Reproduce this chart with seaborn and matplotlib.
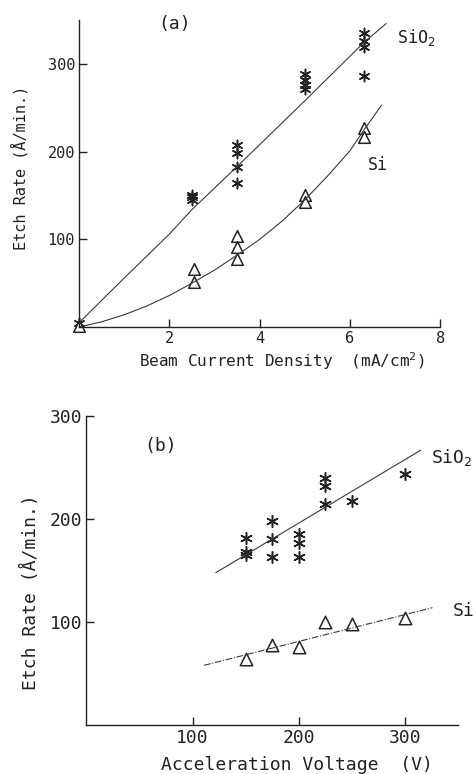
import numpy as np
import pandas as pd
import matplotlib
matplotlib.use("Agg")
import matplotlib.pyplot as plt
import seaborn as sns

sns.set_style("ticks")
plt.rcParams["font.family"] = ["DejaVu Sans Mono"]

# ---- panel (a): etch rate vs beam current density ----
a_sio2_x = [0, 2.5, 2.5, 2.5, 3.5, 3.5, 3.5, 3.5, 5.0, 5.0, 5.0, 5.0, 6.3, 6.3, 6.3, 6.3]
a_sio2_y = [5, 145, 148, 150, 208, 198, 183, 164, 289, 282, 276, 271, 335, 326, 319, 286]
a_si_x = [0, 2.55, 2.55, 3.5, 3.5, 3.5, 5.0, 5.0, 6.3, 6.3]
a_si_y = [1, 66, 51, 104, 91, 77, 150, 143, 227, 217]

# fitted curves
a_sio2_fit_x = [0, 1.0, 2.0, 2.5, 3.5, 5.0, 6.3, 6.8]
a_sio2_fit_y = [5, 56, 106, 134, 183, 258, 324, 346]
a_si_fit_x = [0, 0.5, 1.0, 1.5, 2.0, 2.5, 3.0, 3.5, 4.0, 4.5, 5.0, 5.5, 6.0, 6.3, 6.7]
a_si_fit_y = [0, 6, 14, 24, 36, 50, 65, 82, 100, 121, 145, 172, 201, 224, 253]

# ---- panel (b): etch rate vs acceleration voltage ----
b_sio2_x = [150, 150, 150, 175, 175, 175, 200, 200, 200, 225, 225, 225, 250, 300]
b_sio2_y = [182, 168, 165, 198, 181, 163, 186, 177, 163, 240, 232, 215, 218, 244]
b_si_x = [150, 175, 200, 225, 250, 300]
b_si_y = [64, 78, 76, 100, 98, 104]

b_sio2_fit_x = [122, 315]
b_sio2_fit_y = [148, 267]
b_si_fit_x = [111, 326]
b_si_fit_y = [58, 114]

ink = "#222222"
line_ink = "#3a3a3a"
asterisk = (6, 2, 0)

fig = plt.figure(figsize=(4.77, 7.74), dpi=100)
ax1 = fig.add_axes([0.166, 0.5775, 0.757, 0.3966])
ax2 = fig.add_axes([0.181, 0.0633, 0.779, 0.399])


def style_axes(ax, fs):
    sns.despine(ax=ax)
    ax.spines["left"].set_color(ink)
    ax.spines["bottom"].set_color(ink)
    ax.spines["left"].set_linewidth(1.0)
    ax.spines["bottom"].set_linewidth(1.0)
    ax.tick_params(direction="in", length=6, width=1.0, colors=ink,
                   labelsize=fs, pad=3)


# panel (a)
sns.lineplot(x=a_sio2_fit_x, y=a_sio2_fit_y, ax=ax1, color=line_ink, linewidth=0.8, sort=False)
sns.lineplot(x=a_si_fit_x, y=a_si_fit_y, ax=ax1, color=line_ink, linewidth=0.8, sort=False)
sns.scatterplot(x=a_sio2_x, y=a_sio2_y, ax=ax1, marker=asterisk, s=55,
                color=ink, linewidth=1.1, edgecolor=ink, clip_on=False)
sns.scatterplot(x=a_si_x, y=a_si_y, ax=ax1, marker="^", s=70,
                facecolor="white", edgecolor=ink, linewidth=1.1, clip_on=False)
ax1.set_xlim(0, 8)
ax1.set_ylim(0, 350)
ax1.set_xticks([2, 4, 6, 8])
ax1.set_yticks([100, 200, 300])
style_axes(ax1, 11)
ax1.set_xlabel("Beam Current Density  (mA/cm$^2$)", fontsize=11.5, color=ink)
ax1.set_ylabel("Etch Rate (Å/min.)", fontsize=11, color=ink)
ax1.xaxis.set_label_coords(0.56, -0.075)
ax1.yaxis.set_label_coords(-0.14, 0.52)
ax1.text(1.75, 345, "(a)", fontsize=13, color=ink, va="center", ha="left")
ax1.text(7.05, 330, "SiO$_2$", fontsize=12, color=ink, va="center", ha="left", clip_on=False)
ax1.text(6.4, 185, "Si", fontsize=12, color=ink, va="center", ha="left")

# panel (b)
sns.lineplot(x=b_sio2_fit_x, y=b_sio2_fit_y, ax=ax2, color=line_ink, linewidth=0.8)
sns.lineplot(x=b_si_fit_x, y=b_si_fit_y, ax=ax2, color=line_ink, linewidth=0.8,
             linestyle=(0, (6, 1.5, 1, 1.5)))
sns.scatterplot(x=b_sio2_x, y=b_sio2_y, ax=ax2, marker=asterisk, s=70,
                color=ink, linewidth=1.1, edgecolor=ink)
sns.scatterplot(x=b_si_x, y=b_si_y, ax=ax2, marker="^", s=80,
                facecolor="white", edgecolor=ink, linewidth=1.1)
ax2.set_xlim(0, 350)
ax2.set_ylim(0, 300)
ax2.set_xticks([100, 200, 300])
ax2.set_yticks([100, 200, 300])
style_axes(ax2, 13)
ax2.set_xlabel("Acceleration Voltage  (V)", fontsize=13, color=ink)
ax2.set_ylabel("Etch Rate (Å/min.)", fontsize=13, color=ink)
ax2.xaxis.set_label_coords(0.567, -0.1)
ax2.yaxis.set_label_coords(-0.125, 0.43)
ax2.text(55, 271, "(b)", fontsize=13, color=ink, va="center", ha="left")
ax2.text(325, 260, "SiO$_2$", fontsize=13, color=ink, va="center", ha="left", clip_on=False)
ax2.text(345, 111, "Si", fontsize=13, color=ink, va="center", ha="left", clip_on=False)

fig.savefig("out.png", dpi=100)
